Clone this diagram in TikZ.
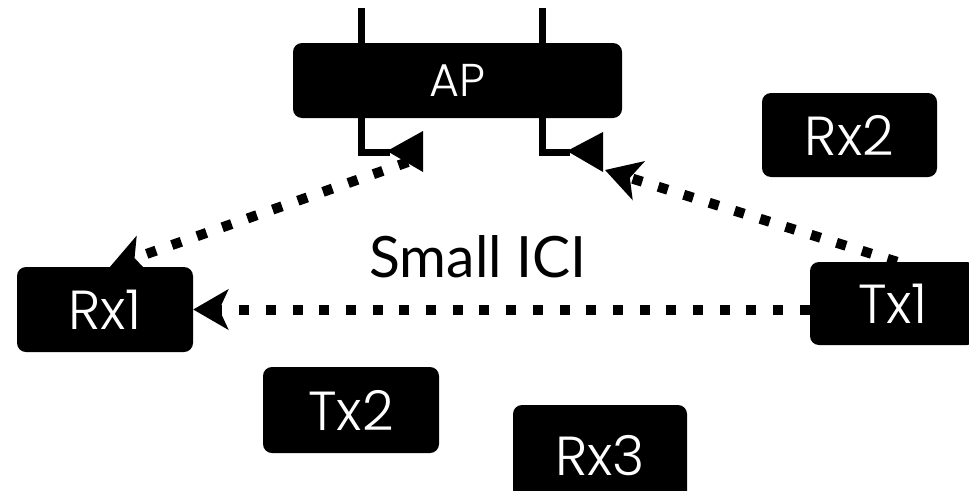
\documentclass[tikz,border=0pt]{standalone}
\usepackage{fontspec}
\setmainfont{Poppins Light}
\newfontfamily\labelfont{Lato}
\usetikzlibrary{arrows.meta}
\begin{document}
\begin{tikzpicture}[x=1pt,y=-1pt,
  box/.style={fill=black, rounded corners=9pt, text=white, inner sep=0pt,
              font=\fontsize{55}{60}\selectfont},
  link/.style={line width=10pt, dash pattern=on 10pt off 16.7pt,
               -{Stealth[length=35pt,width=40pt,inset=9pt]}},
  ant/.style={line width=7pt}]
\clip (0,0) rectangle (969,490);

% nodes
\node[box, minimum width=329pt, minimum height=75pt,
      font=\fontsize{46}{50}\selectfont] (ap) at (457.5,80.5) {AP};
\node[box, minimum width=175pt, minimum height=84pt] (rx2) at (849.5,135) {Rx2};
\node[box, minimum width=176pt, minimum height=85pt] (rx1) at (105,309.5) {Rx1};
\node[box, minimum width=166pt, minimum height=83pt] (tx1) at (893,303.5) {Tx1};
\node[box, minimum width=176pt, minimum height=86pt] (tx2) at (351,410) {Tx2};
\node[box, minimum width=174pt, minimum height=102pt] (rx3) at (600,456) {Rx3};

% antennas of the AP
\draw[ant] (361,8) -- (361,44);
\draw[ant] (542,8) -- (542,44);
\draw[ant] (361,117) -- (361,152) -- (390,152);
\draw[ant] (542,117) -- (542,152) -- (570,152);
\fill (387,151) -- (423,131) -- (423,172) -- cycle;
\fill (567,151) -- (603,132) -- (603,172) -- cycle;
\coordinate (feedL) at (408,162);
\coordinate (feedR) at (605,170);

% links
\draw[link] (feedL) -- ([xshift=5pt]rx1.north);
\draw[link] (tx1.west |- rx1.east) -- (rx1.east);
\draw[link] ([xshift=4pt]tx1.north) -- (feedR);

\node[font=\labelfont\fontsize{57}{60}\selectfont, anchor=base, inner sep=0pt] (ici)
  at (478,277) {Small ICI};
\end{tikzpicture}
\end{document}
